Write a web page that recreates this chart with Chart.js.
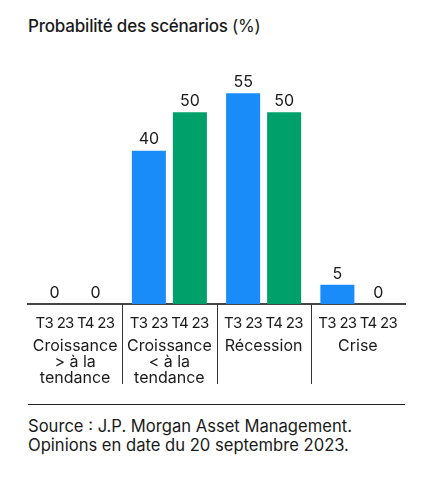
<!DOCTYPE html>
<html>
<head>
<meta charset="utf-8">
<script src="https://cdn.jsdelivr.net/npm/chart.js@4"></script>
<style>
  body { margin: 0; background: #fff; font-family: Inter, "Noto Sans", sans-serif; color: #1a1a1a; }
  #wrap { position: relative; width: 422px; height: 480px; overflow: hidden; }
  #title { position: absolute; left: 28px; top: 16px; font-size: 17px; font-weight: 500; letter-spacing: -0.2px; }
  #title span { font-weight: 400; }
  #chartBox { position: absolute; left: 0; top: 0; width: 422px; height: 400px; }
  #rule { position: absolute; left: 28px; top: 404px; width: 377px; height: 0; border-top: 1.5px solid #222; }
  #source { position: absolute; left: 28px; top: 417px; font-size: 16.6px; line-height: 19px; }
</style>
</head>
<body>
<div id="wrap">
  <div id="title">Probabilité des scénarios <span>(%)</span></div>
  <div id="chartBox"><canvas id="chart" width="422" height="400"></canvas></div>
  <div id="rule"></div>
  <div id="source">Source : J.P. Morgan Asset Management.<br>Opinions en date du 20 septembre 2023.</div>
</div>
<script>
// Data
const groups = [
  ["Croissance", "> à la", "tendance"],
  ["Croissance", "< à la", "tendance"],
  ["Récession"],
  ["Crise"]
];
const seriesNames = ["T3 23", "T4 23"];
const t3Values = [0, 40, 55, 5];
const t4Values = [0, 50, 50, 0];

const BLUE = "#1a8cfa";
const GREEN = "#00a06b";
const TEXT = "#1a1a1a";
const FONT = "Inter, 'Noto Sans', sans-serif";

// value labels above bars + T3/T4 labels under bars + group dividers
const annotate = {
  id: "annotate",
  afterDatasetsDraw(chart) {
    const ctx = chart.ctx;
    const area = chart.chartArea;
    const xs = chart.scales.x;
    ctx.save();
    ctx.fillStyle = TEXT;
    ctx.textAlign = "center";
    ctx.textBaseline = "middle";
    chart.data.datasets.forEach((ds, i) => {
      const meta = chart.getDatasetMeta(i);
      meta.data.forEach((bar, j) => {
        ctx.letterSpacing = "0px";
        ctx.font = "16px " + FONT;
        ctx.fillText(String(ds.data[j]), bar.x, bar.y - 11);
        ctx.letterSpacing = "-0.7px";
        ctx.font = "15px " + FONT;
        ctx.fillText(seriesNames[i], bar.x, area.bottom + 19);
      });
    });
    // dividers
    ctx.strokeStyle = "#333";
    ctx.lineWidth = 1;
    for (let k = 1; k < groups.length; k++) {
      const x = Math.round((xs.getPixelForTick(k - 1) + xs.getPixelForTick(k)) / 2) + 0.5;
      ctx.beginPath();
      ctx.moveTo(x, area.bottom);
      ctx.lineTo(x, area.bottom + 80);
      ctx.stroke();
    }
    ctx.restore();
  }
};

new Chart(document.getElementById("chart"), {
  type: "bar",
  data: {
    labels: groups,
    datasets: [
      { label: seriesNames[0], data: t3Values, backgroundColor: BLUE },
      { label: seriesNames[1], data: t4Values, backgroundColor: GREEN }
    ]
  },
  options: {
    responsive: false,
    animation: false,
    events: [],
    categoryPercentage: 0.87,
    barPercentage: 0.83,
    layout: { padding: { left: 28, right: 17, top: 74, bottom: 0 } },
    plugins: {
      legend: { display: false },
      tooltip: { enabled: false }
    },
    scales: {
      y: {
        display: false,
        min: 0,
        max: 60
      },
      x: {
        grid: { display: false, drawTicks: false },
        border: { display: true, color: "#444", width: 2 },
        ticks: {
          color: TEXT,
          padding: 34,
          font: { family: FONT, size: 16, lineHeight: 1.0 },
          maxRotation: 0,
          autoSkip: false
        },
        afterFit(scale) {
          scale.height = 96;
          scale.paddingLeft = 0;
          scale.paddingRight = 0;
        }
      }
    }
  },
  plugins: [annotate]
});
</script>
</body>
</html>
